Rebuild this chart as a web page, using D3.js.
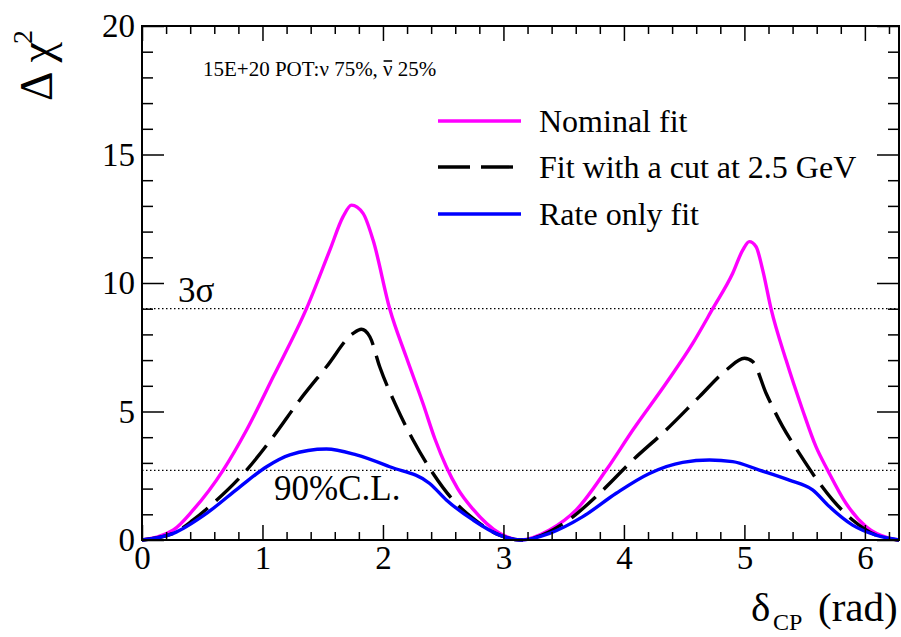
<!DOCTYPE html>
<html>
<head>
<meta charset="utf-8">
<script src="https://cdn.jsdelivr.net/npm/d3@7"></script>
<style>
  html, body { margin: 0; padding: 0; background: #fff; }
  svg { display: block; }
  text { font-family: "Liberation Serif", "Times New Roman", serif; fill: #000; }
</style>
</head>
<body>
<svg id="chart" width="901" height="637"></svg>
<script>
// ---- data ----
const nominalX = [0, 0.26, 0.425, 0.674, 0.868, 1.089, 1.365, 1.559, 1.669, 1.739, 1.835, 1.918, 2.056, 2.195, 2.333, 2.43, 2.526, 2.62, 2.747, 2.968, 3.1416,
                  3.383, 3.604, 3.853, 4.074, 4.35, 4.571, 4.737, 4.903, 4.986, 5.041, 5.097, 5.152, 5.221, 5.346, 5.483, 5.594, 5.691, 5.843, 6.009, 6.2, 6.2832];
const nominalY = [0, 0.39, 1.17, 2.72, 4.28, 6.35, 9.0, 11.28, 12.58, 13.03, 12.71, 11.67, 9.0, 7.1, 5.3, 3.95, 2.85, 2.0, 1.2, 0.26, 0,
                  0.39, 1.17, 2.72, 4.28, 6.1, 7.65, 9.0, 10.38, 11.28, 11.61, 11.41, 10.5, 9.0, 7.0, 5.06, 3.63, 2.72, 1.43, 0.52, 0.07, 0];

const cutX = [0, 0.26, 0.425, 0.591, 0.868, 1.089, 1.31, 1.531, 1.752, 1.821, 1.891, 1.973, 2.112, 2.25, 2.416, 2.581, 2.747, 2.968, 3.1416,
              3.52, 3.798, 4.074, 4.35, 4.627, 4.848, 5.0, 5.069, 5.18, 5.318, 5.456, 5.594, 5.732, 5.898, 6.092, 6.2832];
const cutY = [0, 0.26, 0.78, 1.43, 2.72, 4.02, 5.45, 6.74, 8.04, 8.2, 7.91, 6.74, 5.19, 3.89, 2.59, 1.56, 0.84, 0.19, 0,
              0.71, 1.82, 3.11, 4.28, 5.58, 6.61, 7.07, 6.94, 5.71, 4.41, 3.37, 2.40, 1.56, 0.78, 0.19, 0];

const rateX = [0, 0.26, 0.536, 0.813, 1.034, 1.227, 1.531, 1.78, 2.056, 2.388, 2.526, 2.747, 2.968, 3.1416,
               3.383, 3.659, 3.936, 4.212, 4.488, 4.71, 4.903, 5.124, 5.373, 5.566, 5.705, 5.898, 6.092, 6.2832];
const rateY = [0, 0.26, 1.04, 2.07, 2.85, 3.31, 3.54, 3.31, 2.85, 2.20, 1.56, 0.78, 0.19, 0,
               0.26, 0.91, 1.82, 2.59, 3.02, 3.11, 3.05, 2.72, 2.33, 1.95, 1.30, 0.58, 0.19, 0];

const seriesNames = ["Nominal fit", "Fit with a cut at 2.5 GeV", "Rate only fit"];
const xMajorTicks = [0, 1, 2, 3, 4, 5, 6];
const yMajorTicks = [0, 5, 10, 15, 20];
const refLevels = [9.0, 2.706];
const refLabels = ["3σ", "90%C.L."];
const xDomain = [0, 2 * Math.PI];
const yDomain = [0, 20];

// ---- layout ----
const svg = d3.select("#chart");
const L = 142, R = 899, T = 26, B = 540;
const x = d3.scaleLinear().domain(xDomain).range([L, R]);
const y = d3.scaleLinear().domain(yDomain).range([B, T]);

const xMinor = d3.range(0, 6.29, 0.2).filter(v => Math.abs(v - Math.round(v)) > 1e-6);
const yMinor = d3.range(0, 20.01, 1).filter(v => v % 5 !== 0);

// reference dotted lines
svg.selectAll("line.ref").data(refLevels).enter().append("line")
  .attr("x1", x(xDomain[0])).attr("x2", x(xDomain[1]))
  .attr("y1", d => y(d)).attr("y2", d => y(d))
  .attr("stroke", "#000").attr("stroke-width", 1.2).attr("stroke-dasharray", "1.5 2.5");

// curves
const line = d3.line().x(d => x(d[0])).y(d => y(d[1])).curve(d3.curveMonotoneX);
const series = [
  { xs: nominalX, ys: nominalY, color: "#ff00ff", dash: null },
  { xs: cutX, ys: cutY, color: "#000000", dash: "32 11" },
  { xs: rateX, ys: rateY, color: "#0000ff", dash: null }
];
series.forEach(s => {
  svg.append("path").datum(d3.zip(s.xs, s.ys))
    .attr("d", line).attr("fill", "none")
    .attr("stroke", s.color).attr("stroke-width", 3.4)
    .attr("stroke-dasharray", s.dash)
    .attr("stroke-linejoin", "round");
});

// axes
function styleAxis(g) {
  g.select(".domain").remove();
  g.selectAll(".tick line").attr("stroke", "#000").attr("stroke-width", 1.5);
  g.selectAll("text").attr("font-family", "Liberation Serif").attr("font-size", 33).attr("fill", "#000");
}
svg.append("g").attr("transform", `translate(0,${B})`)
  .call(d3.axisBottom(x).tickValues(xMajorTicks).tickSize(-15).tickPadding(6).tickFormat(d3.format("d"))).call(styleAxis);
svg.append("g").attr("transform", `translate(0,${B})`)
  .call(d3.axisBottom(x).tickValues(xMinor).tickSize(-8).tickFormat("")).call(styleAxis);
svg.append("g").attr("transform", `translate(0,${T})`)
  .call(d3.axisTop(x).tickValues(xMajorTicks).tickSize(-15).tickFormat("")).call(styleAxis);
svg.append("g").attr("transform", `translate(0,${T})`)
  .call(d3.axisTop(x).tickValues(xMinor).tickSize(-8).tickFormat("")).call(styleAxis);
svg.append("g").attr("transform", `translate(${L},0)`)
  .call(d3.axisLeft(y).tickValues(yMajorTicks).tickSize(-22).tickPadding(7).tickFormat(d3.format("d"))).call(styleAxis);
svg.append("g").attr("transform", `translate(${L},0)`)
  .call(d3.axisLeft(y).tickValues(yMinor).tickSize(-11).tickFormat("")).call(styleAxis);
svg.append("g").attr("transform", `translate(${R},0)`)
  .call(d3.axisRight(y).tickValues(yMajorTicks).tickSize(-22).tickFormat("")).call(styleAxis);
svg.append("g").attr("transform", `translate(${R},0)`)
  .call(d3.axisRight(y).tickValues(yMinor).tickSize(-11).tickFormat("")).call(styleAxis);

// frame
svg.append("rect").attr("x", L).attr("y", T).attr("width", R - L).attr("height", B - T)
  .attr("fill", "none").attr("stroke", "#000").attr("stroke-width", 2);

// axis titles
svg.append("text").attr("x", 751).attr("y", 621).attr("font-size", 41).text("δ");
svg.append("text").attr("x", 773).attr("y", 630).attr("font-size", 24).text("CP");
svg.append("text").attr("x", 818).attr("y", 621).attr("font-size", 41).text("(rad)");

const yt = svg.append("text").attr("transform", "translate(52,101) rotate(-90)").attr("font-size", 46);
yt.append("tspan").text("Δ χ");
yt.append("tspan").attr("font-size", 28).attr("dx", -2).attr("dy", -20).text("2");

// reference labels
svg.append("text").attr("x", 178).attr("y", 302).attr("font-size", 35).text(refLabels[0]);
svg.append("text").attr("x", 274).attr("y", 500).attr("font-size", 35).text(refLabels[1]);

// exposure note with nu-bar
const note = svg.append("text").attr("x", 203).attr("y", 76).attr("font-size", 21)
  .text("15E+20 POT:ν 75%, ν 25%");
const idx = note.text().lastIndexOf("ν");
const ext = note.node().getExtentOfChar(idx);
svg.append("line").attr("x1", ext.x + 0.5).attr("x2", ext.x + ext.width - 0.5)
  .attr("y1", ext.y + 4).attr("y2", ext.y + 4).attr("stroke", "#000").attr("stroke-width", 1.6);

// legend
const legY = [121, 167, 214];
series.forEach((s, i) => {
  svg.append("line").attr("x1", 438).attr("x2", 521).attr("y1", legY[i]).attr("y2", legY[i])
    .attr("stroke", s.color).attr("stroke-width", 3.4).attr("stroke-dasharray", s.dash);
  svg.append("text").attr("x", 539).attr("y", legY[i] + 11).attr("font-size", 32).text(seriesNames[i]);
});
</script>
</body>
</html>
